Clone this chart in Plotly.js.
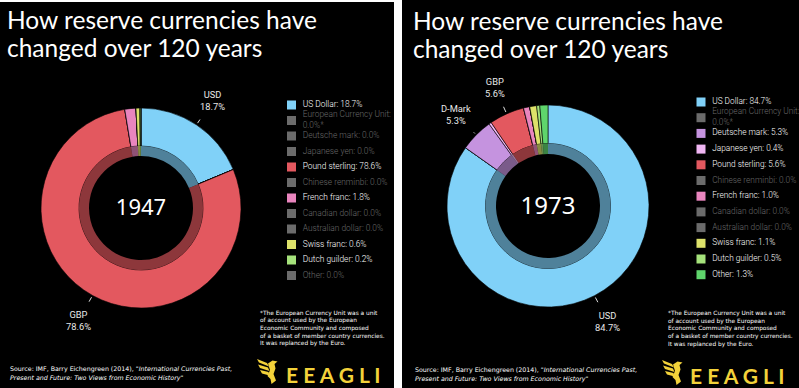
<!DOCTYPE html>
<html><head><meta charset="utf-8">
<script src="https://cdn.plot.ly/plotly-3.0.1.min.js"></script>
<style>html,body{margin:0;padding:0;background:#fff;}#chart{width:799px;height:388px;}</style>
</head><body><div id="chart"></div>
<script>
// ---------------- data ----------------
const currencies = ["US Dollar","European Currency Unit","Deutsche mark","Japanese yen","Pound sterling","Chinese renminbi","French franc","Canadian dollar","Australian dollar","Swiss franc","Dutch guilder","Other"];
const footnoteMarks = ["","*","","","","","","","","","",""];
const years = ["1947","1973"];
const shares1947 = [18.7,0,0,0,78.6,0,1.8,0,0,0.6,0.2,0];
const shares1973 = [84.7,0,5.3,0.4,5.6,0,1.0,0,0,1.1,0.5,1.3];
const sliceLabels1947 = ["USD","","","","GBP","","","","","","",""];
const sliceLabels1973 = ["USD","","D-Mark","","GBP","","","","","","",""];
const currencyColors = ["#80d1f8","#6b6b6b","#c593df","#f0b6f3","#e3585f","#6b6b6b","#e985be","#6b6b6b","#6b6b6b","#dde26a","#a5e27b","#5fd56c"];
const titleLines = ["How reserve currencies have", "changed over 120 years"];
const footnoteLines = ["*The European Currency Unit was a unit", "of account used by the European", "Economic Community and composed", "of a basket of member country currencies.", "It was replanced by the Euro."];
const sourceLines = ["Source: IMF, Barry Eichengreen (2014), <i>\"International Currencies Past,</i>", "<i>Present and Future: Two Views from Economic History\"</i>"];
const brandText = "E E A G L I";

// ---------------- layout helpers ----------------
const W = 799, H = 388;
const px = x => x / W, py = y => 1 - y / H;
const GRAY = "#6b6b6b";
const panels = [
  {shares: shares1947, labels: sliceLabels1947, year: years[0], yearSize: 22,
   x0: 0, x1: 394, y0: 2, y1: 388, cx: 141, cy: 208, R: 100, Rin: 62, Rhole: 52,
   titleX: 5, titleY: 19.5, legX: 291.5, legTop: 105, legRow: 15.5, legFont: 8.4,
   noteX: 258, noteY: 313, srcX: 8, srcY: 369, logoX: 257, logoY: 358, brandX: 284, brandY: 374},
  {shares: shares1973, labels: sliceLabels1973, year: years[1], yearSize: 24,
   x0: 402, x1: 799, y0: 0, y1: 388, cx: 548, cy: 206, R: 101, Rin: 62.5, Rhole: 52,
   titleX: 411, titleY: 20.5, legX: 701, legTop: 102, legRow: 15.7, legFont: 8.3,
   noteX: 666, noteY: 313.5, srcX: 413, srcY: 370, logoX: 662, logoY: 359, brandX: 688, brandY: 375}
];
const titleGap = 28, noteGap = 7.7, srcGap = 9.3;
const legTextShift = 1.12; // legend text offset from square, in legend-axis units (10px each)

function hexToRgba(hex, a) {
  const n = parseInt(hex.slice(1), 16);
  return `rgba(${(n>>16)&255},${(n>>8)&255},${n&255},${a})`;
}

const traces = [], annotations = [], shapes = [];
const layout = {
  width: W, height: H, margin: {l:0, r:0, t:0, b:0},
  paper_bgcolor: "#ffffff", plot_bgcolor: "rgba(0,0,0,0)",
  showlegend: false, annotations, shapes
};

// eagle mark (local coords, ~22x26)
const eagleParts = [
  [[0,1],[10,5],[12,8.5],[2,4.5]],
  [[1,6.5],[11,9.5],[12.5,13],[3,10]],
  [[3,12],[11.5,14],[12.5,17.5],[5,15.5]],
  [[11,5.5],[15.5,2.5],[20.5,3.5],[17.5,6],[18.5,10.5],[16.5,16],[19,22.5],[14.5,26],[13.5,21],[10.5,18],[13,12]]
];

function textLines(lines, x, y, gap, font) {
  lines.forEach((t, i) => annotations.push({xref:"paper", yref:"paper", x:px(x), y:py(y + i*gap),
    xanchor:"left", yanchor:"middle", showarrow:false, align:"left", text:t, font}));
}

panels.forEach((p, k) => {
  const axSuffix = k === 0 ? "" : "2";
  const xa = "x" + axSuffix, ya = "y" + axSuffix;
  // panel background
  shapes.push({type:"rect", xref:"paper", yref:"paper", layer:"below",
    x0:px(p.x0), x1:px(p.x1), y0:py(p.y1), y1:py(p.y0), fillcolor:"#000", line:{width:0}});

  const sliceColors = p.shares.map((v,i) => v > 0 ? currencyColors[i] : GRAY);
  // outer ring
  traces.push({type:"pie", values:p.shares, labels:currencies, sort:false, direction:"clockwise", rotation:0,
    hole: p.Rin / p.R,
    domain:{x:[px(p.cx-p.R), px(p.cx+p.R)], y:[py(p.cy+p.R), py(p.cy-p.R)]},
    marker:{colors:sliceColors, line:{color:"#000", width:0.6}},
    textinfo:"none", hoverinfo:"label+percent", showlegend:false,
    title:{text:p.year, position:"middle center", font:{family:"Noto Sans, Roboto, sans-serif", size:p.yearSize, color:"#ffffff"}}});
  // inner darker ring
  traces.push({type:"pie", values:p.shares, labels:currencies, sort:false, direction:"clockwise", rotation:0,
    hole: p.Rhole / p.Rin,
    domain:{x:[px(p.cx-p.Rin), px(p.cx+p.Rin)], y:[py(p.cy+p.Rin), py(p.cy-p.Rin)]},
    marker:{colors:sliceColors.map(c => hexToRgba(c, 0.62)), line:{color:"rgba(0,0,0,0)", width:0}},
    textinfo:"none", hoverinfo:"skip", showlegend:false});

  // slice labels with short leader ticks
  const total = p.shares.reduce((a,b)=>a+b,0);
  let cum = 0;
  p.shares.forEach((v,i) => {
    const mid = (cum + v/2) / total; cum += v;
    if (!p.labels[i]) return;
    const th = 2*Math.PI*mid, s = Math.sin(th), c = -Math.cos(th);
    const rp = p.R + 2, rt = p.R + 29;
    annotations.push({xref:"paper", yref:"paper", x:px(p.cx + rp*s), y:py(p.cy + rp*c),
      ax:(rt-rp)*s, ay:(rt-rp)*c, showarrow:true, arrowhead:0, arrowwidth:1, arrowcolor:"#dddddd",
      startstandoff:7, standoff:0,
      text:`${p.labels[i]}<br>${v.toFixed(1)}%`, align:"center",
      font:{family:"Roboto, sans-serif", size:9.3, color:"#e8e8e8"}});
  });

  // legend: square markers + labels on their own axes
  const n = currencies.length;
  const rowIdx = currencies.map((_,i)=>i);
  const legText = currencies.map((name,i) => {
    const sep = name.length > 18 ? ":<br>" : ": ";
    return name + sep + p.shares[i].toFixed(1) + "%" + footnoteMarks[i];
  });
  traces.push({type:"scatter", mode:"markers", xaxis:xa, yaxis:ya,
    x: rowIdx.map(()=>0), y: rowIdx,
    marker:{symbol:"square", size:9, color:sliceColors, line:{width:0}},
    hoverinfo:"skip", showlegend:false, cliponaxis:false});
  traces.push({type:"scatter", mode:"text", xaxis:xa, yaxis:ya,
    x: rowIdx.map(()=>legTextShift), y: rowIdx, text: legText, textposition:"middle right",
    textfont:{family:"Roboto, sans-serif", size:p.legFont, weight:300, color:p.shares.map(v => v > 0 ? "#ffffff" : "#6a6a6a")},
    hoverinfo:"skip", showlegend:false, cliponaxis:false});
  const top = p.legTop - p.legRow/2, bot = p.legTop + p.legRow*(n-1) + p.legRow/2;
  layout["xaxis"+axSuffix] = {domain:[px(p.legX-10), px(p.legX+90)], range:[-1,9], visible:false, fixedrange:true, anchor:ya};
  layout["yaxis"+axSuffix] = {domain:[py(bot), py(top)], range:[n-0.5,-0.5], visible:false, fixedrange:true, anchor:xa};

  // texts
  textLines(titleLines, p.titleX, p.titleY, titleGap, {family:"Lato, sans-serif", size:24.5, color:"#ffffff"});
  textLines(footnoteLines, p.noteX, p.noteY, noteGap, {family:"DejaVu Sans, sans-serif", size:5.85, color:"#ffffff"});
  textLines(sourceLines, p.srcX, p.srcY, srcGap, {family:"DejaVu Sans, sans-serif", size:6.3, color:"#ffffff"});
  annotations.push({xref:"paper", yref:"paper", x:px(p.brandX), y:py(p.brandY), xanchor:"left", yanchor:"middle",
    showarrow:false, align:"left", text:brandText, font:{family:"Lato, sans-serif", size:21, weight:"bold", color:"#f3d23a"}});
  // eagle mark
  eagleParts.forEach(poly => {
    const d = poly.map((pt,j) => (j?"L":"M") + px(p.logoX+pt[0]) + "," + py(p.logoY+pt[1])).join(" ") + " Z";
    shapes.push({type:"path", xref:"paper", yref:"paper", path:d, fillcolor:"#f3d23a", line:{width:0}, layer:"above"});
  });
});

Plotly.newPlot("chart", traces, layout, {staticPlot:true, displayModeBar:false});
</script></body></html>
